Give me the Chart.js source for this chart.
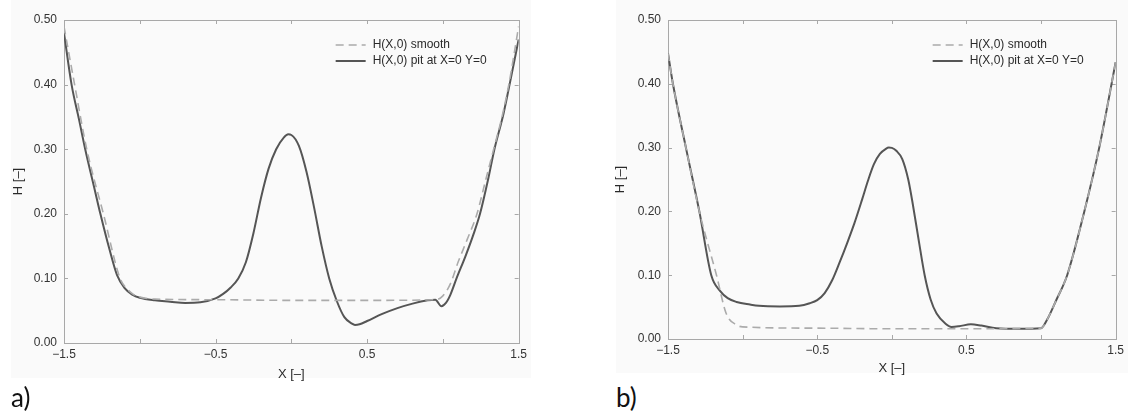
<!DOCTYPE html>
<html>
<head>
<meta charset="utf-8">
<script src="https://cdn.jsdelivr.net/npm/chart.js@4/dist/chart.umd.min.js"></script>
<style>
  body { margin: 0; width: 1128px; height: 412px; background: #fff; position: relative; overflow: hidden; }
  .bg { position: absolute; background: #fafafa; }
  canvas { position: absolute; }
  .tag { position: absolute; font-family: Lato, 'Open Sans', sans-serif; font-size: 26px; color: #111; line-height: 30px; }
</style>
</head>
<body>
<div class="bg" style="left:11px;top:0;width:520px;height:378px"></div>
<div class="bg" style="left:616px;top:0;width:512px;height:373px"></div>
<div id="wrapA" style="position:absolute;left:0;top:0;width:531px;height:383px"><canvas id="chartA"></canvas></div>
<div id="wrapB" style="position:absolute;left:560px;top:0;width:568px;height:379px"><canvas id="chartB"></canvas></div>
<div class="tag" style="left:11px;top:382px">a)</div>
<div class="tag" style="left:616px;top:382px">b)</div>
<script>
// values
const seriesNames = ['H(X,0) smooth', 'H(X,0) pit at X=0 Y=0'];

// panel a)
const xSmoothA = [-1.5, -1.43, -1.35, -1.24, -1.13, -1.08, -1.04, -1.0, -0.9, -0.5, 0, 0.5, 0.95, 1.0, 1.05, 1.1, 1.16, 1.225, 1.28, 1.335, 1.39, 1.435, 1.5];
const hSmoothA = [0.49, 0.40, 0.30, 0.20, 0.10, 0.083, 0.075, 0.071, 0.068, 0.067, 0.066, 0.066, 0.067, 0.073, 0.092, 0.125, 0.16, 0.20, 0.25, 0.30, 0.35, 0.40, 0.49];
const xPitA = [-1.5, -1.45, -1.4, -1.36, -1.3, -1.26, -1.2, -1.15, -1.1, -1.05, -1.0, -0.9, -0.8, -0.7, -0.6, -0.5, -0.45, -0.4, -0.35, -0.3, -0.25, -0.2, -0.15, -0.1, -0.05, -0.02, 0.0, 0.05, 0.1, 0.15, 0.2, 0.25, 0.3, 0.35, 0.4, 0.42, 0.45, 0.5, 0.6, 0.7, 0.8, 0.9, 0.95, 0.99, 1.02, 1.05, 1.09, 1.15, 1.2, 1.245, 1.3, 1.34, 1.4, 1.44, 1.5];
const hPitA = [0.48, 0.40, 0.345, 0.30, 0.24, 0.20, 0.145, 0.105, 0.085, 0.075, 0.070, 0.066, 0.064, 0.062, 0.063, 0.069, 0.076, 0.086, 0.10, 0.125, 0.17, 0.225, 0.27, 0.30, 0.318, 0.323, 0.322, 0.305, 0.265, 0.21, 0.15, 0.10, 0.065, 0.04, 0.03, 0.028, 0.029, 0.034, 0.045, 0.054, 0.061, 0.066, 0.067, 0.057, 0.062, 0.075, 0.10, 0.135, 0.167, 0.20, 0.255, 0.30, 0.355, 0.40, 0.47];

// panel b)
const xSmoothB = [-1.5, -1.467, -1.38, -1.29, -1.175, -1.11, -1.04, -1.0, -0.5, 0, 0.5, 1.0, 1.04, 1.1, 1.175, 1.29, 1.39, 1.5];
const hSmoothB = [0.448, 0.40, 0.30, 0.20, 0.10, 0.04, 0.022, 0.019, 0.017, 0.016, 0.016, 0.017, 0.03, 0.06, 0.10, 0.20, 0.30, 0.434];
const xPitB = [-1.5, -1.467, -1.38, -1.29, -1.21, -1.15, -1.1, -1.04, -0.95, -0.89, -0.75, -0.62, -0.55, -0.5, -0.45, -0.4, -0.35, -0.3, -0.25, -0.2, -0.16, -0.12, -0.08, -0.04, -0.02, 0.0, 0.03, 0.07, 0.11, 0.14, 0.18, 0.22, 0.26, 0.3, 0.36, 0.4, 0.45, 0.53, 0.6, 0.7, 0.85, 1.0, 1.04, 1.1, 1.175, 1.29, 1.39, 1.5];
const hPitB = [0.448, 0.40, 0.30, 0.20, 0.10, 0.075, 0.064, 0.058, 0.054, 0.052, 0.051, 0.052, 0.056, 0.061, 0.072, 0.092, 0.12, 0.15, 0.182, 0.218, 0.248, 0.274, 0.29, 0.298, 0.30, 0.2995, 0.295, 0.282, 0.25, 0.212, 0.155, 0.10, 0.062, 0.04, 0.024, 0.019, 0.02, 0.023, 0.021, 0.017, 0.016, 0.017, 0.03, 0.06, 0.10, 0.20, 0.30, 0.434];

const xTickLabels = {'-1.5': '\u22121.5', '-0.5': '\u22120.5', '0.5': '0.5', '1.5': '1.5'};
const xTitle = 'X [\u2013]';
const yTitle = 'H [\u2013]';

Chart.defaults.font.family = "'Liberation Sans', Arial, sans-serif";
Chart.defaults.font.size = 12;
Chart.defaults.color = '#333';

const toPoints = (xs, hs) => xs.map((x, i) => ({x: x, y: hs[i]}));

// box round the plot with inward ticks on all four sides
const framePlugin = {
    id: 'frame',
    beforeDatasetsDraw(chart) {
        const ctx = chart.ctx, a = chart.chartArea;
        const sx = chart.scales.x, sy = chart.scales.y;
        ctx.save();
        ctx.strokeStyle = '#a8a8a8';
        ctx.lineWidth = 1;
        ctx.strokeRect(Math.round(a.left) + 0.5, Math.round(a.top) + 0.5, Math.round(a.right - a.left), Math.round(a.bottom - a.top));
        ctx.beginPath();
        sx.ticks.forEach(t => {
            const px = Math.round(sx.getPixelForValue(t.value)) + 0.5;
            ctx.moveTo(px, a.bottom); ctx.lineTo(px, a.bottom - 4);
            ctx.moveTo(px, a.top); ctx.lineTo(px, a.top + 4);
        });
        sy.ticks.forEach(t => {
            const py = Math.round(sy.getPixelForValue(t.value)) + 0.5;
            ctx.moveTo(a.left, py); ctx.lineTo(a.left + 4, py);
            ctx.moveTo(a.right, py); ctx.lineTo(a.right - 4, py);
        });
        ctx.stroke();
        ctx.restore();
    }
};

// legend in the top right corner of the plot
const legendPlugin = {
    id: 'cornerLegend',
    afterDatasetsDraw(chart) {
        const ctx = chart.ctx, a = chart.chartArea;
        ctx.save();
        ctx.font = "12px 'Liberation Sans', Arial, sans-serif";
        ctx.textBaseline = 'middle';
        chart.data.datasets.forEach((ds, i) => {
            const y = a.top + 25 + i * 16;
            ctx.strokeStyle = ds.borderColor;
            ctx.lineWidth = ds.borderWidth;
            ctx.setLineDash(ds.borderDash || []);
            ctx.beginPath();
            ctx.moveTo(a.right - 183, y);
            ctx.lineTo(a.right - 153, y);
            ctx.stroke();
            ctx.setLineDash([]);
            ctx.fillStyle = '#2a2a2a';
            ctx.fillText(ds.label, a.right - 146, y);
        });
        ctx.restore();
    }
};

function makeConfig(xs1, hs1, xs2, hs2, pad, yWidth, yTitlePad, xTitlePad) {
    return {
        type: 'line',
        data: {
            datasets: [{
                label: seriesNames[0],
                data: toPoints(xs1, hs1),
                borderColor: '#ababab',
                borderWidth: 1.6,
                borderDash: [8, 5],
                pointRadius: 0,
                cubicInterpolationMode: 'monotone'
            }, {
                label: seriesNames[1],
                data: toPoints(xs2, hs2),
                borderColor: '#555',
                borderWidth: 2,
                pointRadius: 0,
                cubicInterpolationMode: 'monotone'
            }]
        },
        options: {
            responsive: true,
            maintainAspectRatio: false,
            animation: false,
            layout: {padding: pad, autoPadding: false},
            plugins: {legend: {display: false}, tooltip: {enabled: false}},
            scales: {
                x: {
                    type: 'linear',
                    min: -1.5,
                    max: 1.5,
                    grid: {display: false, drawTicks: false},
                    border: {display: false},
                    ticks: {
                        stepSize: 0.5,
                        padding: 4,
                        maxRotation: 0,
                        autoSkip: false,
                        callback: v => xTickLabels[String(v)] || ''
                    },
                    title: {display: true, text: xTitle, font: {size: 13}, color: '#2a2a2a', padding: {top: 0, bottom: xTitlePad}},
                    afterFit: s => { s.height = 40; }
                },
                y: {
                    min: 0,
                    max: 0.5,
                    grid: {display: false, drawTicks: false},
                    border: {display: false},
                    ticks: {stepSize: 0.1, padding: 7, callback: v => v.toFixed(2)},
                    title: {display: true, text: yTitle, font: {size: 13}, color: '#2a2a2a', padding: {top: yTitlePad, bottom: 0}},
                    afterFit: s => { s.width = yWidth; }
                }
            }
        },
        plugins: [framePlugin, legendPlugin]
    };
}

const chartA = new Chart(document.getElementById('chartA'),
    makeConfig(xSmoothA, hSmoothA, xPitA, hPitA, {top: 20, right: 9, bottom: 0, left: 0}, 64, 11, 1));
const chartB = new Chart(document.getElementById('chartB'),
    makeConfig(xSmoothB, hSmoothB, xPitB, hPitB, {top: 20, right: 9, bottom: 0, left: 45}, 63, 8, 3));
</script>
</body>
</html>
